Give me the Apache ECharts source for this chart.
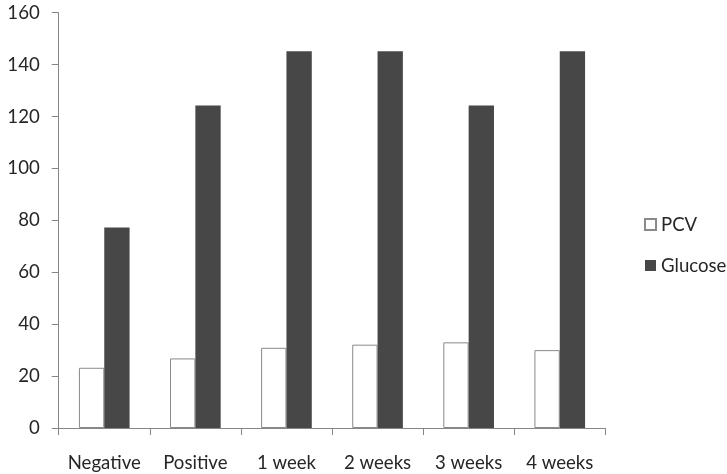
<!DOCTYPE html>
<html><head><meta charset="utf-8">
<script src="https://cdn.jsdelivr.net/npm/echarts@6/dist/echarts.min.js"></script>
<style>html,body{margin:0;padding:0;background:#fff}#c{width:727px;height:474px}</style>
</head><body><div id="c"></div>
<script>
const categories = ['Negative', 'Positive', '1 week', '2 weeks', '3 weeks', '4 weeks'];
const pcv = [23.2, 26.8, 30.9, 32.1, 33.0, 30.0];
const glucose = [77.2, 124.2, 145.1, 145.1, 124.2, 145.1];
const yTicks = { min: 0, max: 160, interval: 20 };

const font = 'Lato, "Open Sans", sans-serif';
const fs = 18.6;
const chart = echarts.init(document.getElementById('c'), null, { renderer: 'canvas' });
chart.setOption({
  animation: false,
  backgroundColor: '#fff',
  grid: { left: 58.7, right: 121.7, top: 12.7, bottom: 46, containLabel: false },
  legend: {
    orient: 'vertical', left: 639, top: 210,
    itemWidth: 11, itemHeight: 11, itemGap: 22,
    icon: 'rect',
    textStyle: { fontFamily: font, fontSize: fs, color: '#262626', padding: [0, 0, 0, 0] },
    data: ['PCV', 'Glucose']
  },
  xAxis: {
    type: 'category', data: categories,
    axisLine: { lineStyle: { color: '#868686', width: 1 } },
    axisTick: { show: true, length: 7, inside: false, lineStyle: { color: '#868686' } },
    axisLabel: { fontFamily: font, fontSize: fs, color: '#262626', margin: 25, interval: 0 }
  },
  yAxis: {
    type: 'value', min: yTicks.min, max: yTicks.max, interval: yTicks.interval,
    axisLine: { show: true, lineStyle: { color: '#868686', width: 1 } },
    axisTick: { show: true, length: 7, lineStyle: { color: '#868686' } },
    splitLine: { show: false },
    axisLabel: { fontFamily: font, fontSize: fs, color: '#262626', margin: 19 }
  },
  series: [
    { name: 'PCV', type: 'bar', data: pcv, barGap: '0%', barCategoryGap: '44.4%',
      itemStyle: { color: '#ffffff', borderColor: '#8a8a8a', borderWidth: 1 } },
    { name: 'Glucose', type: 'bar', data: glucose, barGap: '0%', barCategoryGap: '44.4%',
      itemStyle: { color: '#474747' } }
  ]
});
</script></body></html>
